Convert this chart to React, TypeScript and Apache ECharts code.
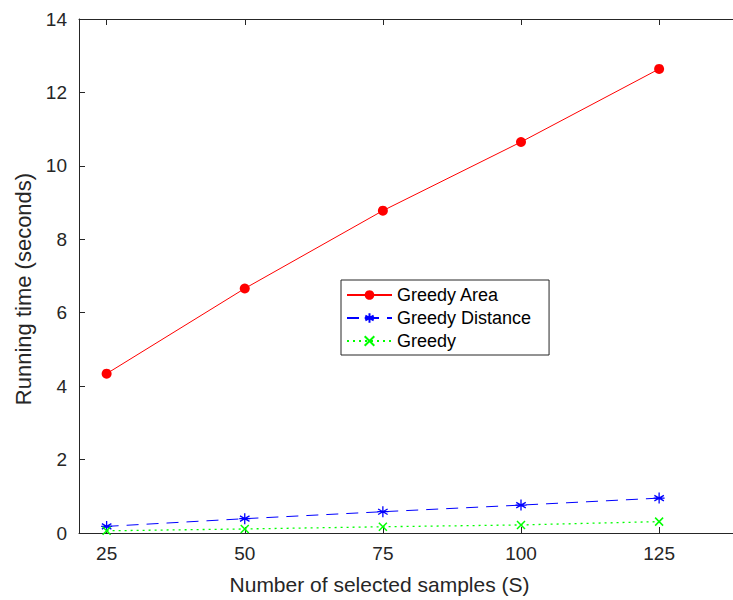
import React, { useEffect, useRef } from "react";
import * as echarts from "echarts";

const samples = [25, 50, 75, 100, 125];
const greedyArea = [4.34, 6.66, 8.78, 10.65, 12.64];
const greedyDistance = [0.18, 0.39, 0.58, 0.76, 0.95];
const greedy = [0.06, 0.11, 0.17, 0.22, 0.31];
const xTicks = [25, 50, 75, 100, 125];

const FONT = "Liberation Sans";
const AX = "#262626";

const asterisk = "path://M0,-1L0,1M-0.866,-0.5L0.866,0.5M-0.866,0.5L0.866,-0.5M-1,0L1,0";
const cross = "path://M0,0L1,1M0,1L1,0";

export default function App() {
  const ref = useRef<HTMLDivElement>(null);
  useEffect(() => {
    if (!ref.current) return;
    const chart = echarts.init(ref.current, null, { renderer: "svg" });
    const pair = (ys: number[]) => samples.map((x, i) => [x, ys[i]]);
    chart.setOption({
      animation: false,
      backgroundColor: "#ffffff",
      textStyle: { fontFamily: FONT },
      grid: { left: 79, top: 19, width: 663, height: 516 },
      legend: {
        orient: "vertical",
        left: 341,
        top: 280,
        itemWidth: 45,
        itemHeight: 12,
        itemGap: 5,
        padding: [6, 18, 5, 5],
        borderColor: AX,
        borderWidth: 1,
        textStyle: { fontFamily: FONT, fontSize: 18, color: "#000" },
        data: ["Greedy Area", "Greedy Distance", "Greedy"],
      },
      xAxis: [
        {
          type: "value",
          min: 20,
          max: 140,
          name: "Number of selected samples (S)",
          nameLocation: "middle",
          nameGap: 41,
          nameTextStyle: { fontFamily: FONT, fontSize: 21, color: AX, padding: [0, 62, 0, 0] },
          axisLine: { show: true, lineStyle: { color: AX, width: 1 } },
          axisTick: { show: true, inside: true, length: 6, customValues: xTicks, lineStyle: { color: AX } },
          axisLabel: { customValues: xTicks, fontFamily: FONT, fontSize: 19, color: AX, margin: 11 },
          splitLine: { show: false },
        },
        {
          type: "value",
          position: "top",
          min: 20,
          max: 140,
          axisLine: { show: true, onZero: false, lineStyle: { color: AX, width: 1 } },
          axisTick: { show: true, inside: true, length: 6, customValues: xTicks, lineStyle: { color: AX } },
          axisLabel: { show: false },
          splitLine: { show: false },
        },
      ],
      yAxis: {
        type: "value",
        min: 0,
        max: 14,
        interval: 2,
        name: "Running time (seconds)",
        nameLocation: "middle",
        nameGap: 41,
        nameTextStyle: { fontFamily: FONT, fontSize: 22, color: AX, padding: [0, 26, 0, 0] },
        axisLine: { show: true, lineStyle: { color: AX, width: 1 } },
        axisTick: { show: true, inside: true, length: 6, lineStyle: { color: AX } },
        axisLabel: { fontFamily: FONT, fontSize: 19, color: AX, margin: 12 },
        splitLine: { show: false },
      },
      series: [
        {
          name: "Greedy Area",
          type: "line",
          data: pair(greedyArea),
          symbol: "circle",
          symbolSize: 10,
          lineStyle: { color: "#ff0000", width: 1 },
          itemStyle: { color: "#ff0000" },
        },
        {
          name: "Greedy Distance",
          type: "line",
          data: pair(greedyDistance),
          symbol: asterisk,
          symbolSize: 11,
          lineStyle: { color: "#0000ff", width: 1, type: [12, 8] },
          itemStyle: { color: "#0000ff", borderColor: "#0000ff", borderWidth: 1.3 },
        },
        {
          name: "Greedy",
          type: "line",
          data: pair(greedy),
          symbol: cross,
          symbolSize: 8,
          lineStyle: { color: "#00ff00", width: 1.3, type: [2, 4] },
          itemStyle: { color: "#00ff00", borderColor: "#00ff00", borderWidth: 1.5 },
        },
      ],
    });
    return () => chart.dispose();
  }, []);
  return (
    <div style={{ position: "absolute", left: 0, top: 0, width: 733, height: 600, overflow: "hidden", background: "#fff" }}>
      <div ref={ref} style={{ width: 745, height: 600 }} />
    </div>
  );
}
